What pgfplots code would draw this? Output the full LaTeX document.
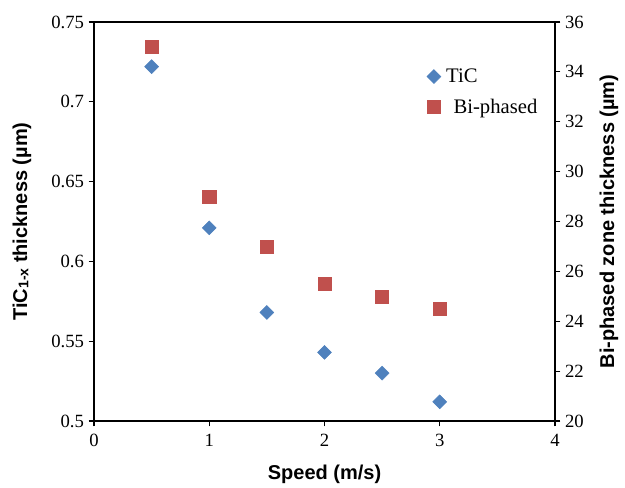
\documentclass[border=0pt]{standalone}
\usepackage{pgfplots}
\pgfplotsset{compat=1.18}
\usepackage{fontspec}
\setmainfont{Liberation Serif}
\newfontfamily\arialfont{Liberation Sans}
\definecolor{ticblue}{RGB}{79,129,189}
\definecolor{bired}{RGB}{192,80,77}

\pgfplotsset{
  common/.style={
    width=345.75pt, height=299.25pt, scale only axis,
    xmin=0, xmax=4,
    tick align=outside,
    major tick length=4pt,
    axis line style={line width=1pt},
    every tick/.style={black, line width=0.8pt},
    tick label style={font=\fontsize{14}{16}\selectfont},
    /pgf/number format/assume math mode=true,
  }
}

\begin{document}
\begin{tikzpicture}
\path[use as bounding box] (-70.5pt,-49.5pt) rectangle (398.25pt,315.75pt);
\begin{axis}[common,
  ymin=0.5, ymax=0.75,
  ytick={0.5,0.55,0.6,0.65,0.7,0.75},
  yticklabels={0.5,0.55,0.6,0.65,0.7,0.75},
  xtick={0,1,2,3,4},
  xtick pos=bottom, ytick pos=left,
  xticklabel style={yshift=-2pt},
  legend cell align=left,
  legend style={at={(rel axis cs:0.713,0.897)}, anchor=north west, draw=none, fill=none,
    font=\fontsize{15.5}{17}\selectfont, row sep=7pt},
]
\addplot[only marks, mark=square*, mark size=3.7pt,
  mark options={rotate=45, fill=ticblue, draw=ticblue}] coordinates {
  (0.5,0.722) (1,0.621) (1.5,0.568) (2,0.543) (2.5,0.530) (3,0.512)
};
\addlegendentry{\hspace{2pt}TiC}
\addlegendimage{only marks, mark=square*, mark size=4.9pt, mark options={fill=bired, draw=bired}}
\addlegendentry{\hspace{7.5pt}Bi-phased}
\end{axis}
\begin{axis}[common,
  axis x line=none, axis y line*=right,
  ymin=20, ymax=36, ytick={20,22,...,36},
]
\addplot[only marks, mark=square*, mark size=4.9pt,
  mark options={fill=bired, draw=bired}] coordinates {
  (0.5,35.0) (1,29.0) (1.5,27.0) (2,25.5) (2.5,25.0) (3,24.5)
};
\end{axis}
\node[font=\arialfont\bfseries\fontsize{15}{18}\selectfont] at (172.9pt,-40pt) {Speed (m/s)};
\node[rotate=90, font=\arialfont\bfseries\fontsize{15}{18}\selectfont] at (-54pt,149.6pt)
  {TiC{\fontsize{10.5}{12}\selectfont\raisebox{-1pt}{1-x}} thickness (µm)};
\node[rotate=90, font=\arialfont\bfseries\fontsize{15}{18}\selectfont] at (386.25pt,149.6pt)
  {Bi-phased zone thickness (µm)};
\end{tikzpicture}
\end{document}
